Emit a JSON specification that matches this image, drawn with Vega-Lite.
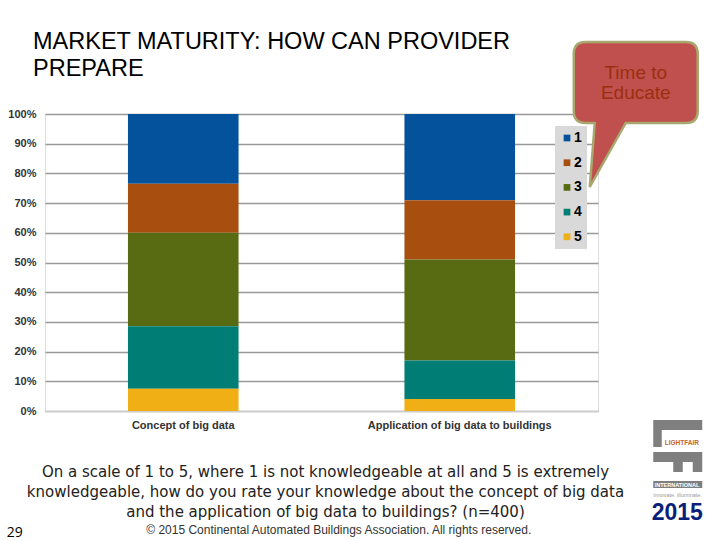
{"$schema":"https://vega.github.io/schema/vega-lite/v6.json","width":553,"height":297,"autosize":{"type":"none"},"padding":{"left":45,"top":114,"right":122,"bottom":129},"background":"white","config":{"font":"Liberation Sans","view":{"stroke":"#dddddd"},"axisY":{"tickCount":10,"labelOverlap":false}},"title":{"text":["MARKET MATURITY: HOW CAN PROVIDER","PREPARE"],"anchor":"start","frame":"group","dx":-12,"dy":77,"offset":34,"font":"Liberation Sans","fontSize":23.5,"fontWeight":"normal","lineHeight":27,"color":"#000000"},"encoding":{"x":{"field":"question","type":"nominal","sort":null,"scale":{"domain":["Concept of big data","Application of big data to buildings"],"paddingInner":0.6,"paddingOuter":0.3},"axis":{"title":["On a scale of 1 to 5, where 1 is not knowledgeable at all and 5 is extremely","knowledgeable, how do you rate your knowledge about the concept of big data","and the application of big data to buildings? (n=400)"],"titleFont":"DejaVu Sans","titleFontSize":15,"titleFontWeight":"normal","titleColor":"#222222","titleLineHeight":20,"titlePadding":34,"titleX":280,"labelAngle":0,"labelFont":"Liberation Sans","labelFontSize":11,"labelFontWeight":"bold","labelColor":"#333333","labelPadding":8,"labelLimit":300,"ticks":false,"domainColor":"#cccccc","grid":false}}},"layer":[{"data":{"values":[{"question":"Concept of big data","rating":"1","share":23.5},{"question":"Concept of big data","rating":"2","share":16.5},{"question":"Concept of big data","rating":"3","share":31.5},{"question":"Concept of big data","rating":"4","share":21},{"question":"Concept of big data","rating":"5","share":7.5},{"question":"Application of big data to buildings","rating":"1","share":29},{"question":"Application of big data to buildings","rating":"2","share":20},{"question":"Application of big data to buildings","rating":"3","share":34},{"question":"Application of big data to buildings","rating":"4","share":13},{"question":"Application of big data to buildings","rating":"5","share":4}]},"mark":{"type":"bar"},"encoding":{"y":{"field":"share","type":"quantitative","stack":"normalize","scale":{"domain":[0,1]},"axis":{"title":null,"format":".0%","grid":true,"gridColor":"#999999","gridWidth":1.5,"ticks":false,"domain":false,"labelFont":"Liberation Sans","labelFontSize":11,"labelFontWeight":"bold","labelColor":"#333333","labelPadding":9}},"color":{"field":"rating","type":"nominal","scale":{"domain":["1","2","3","4","5"],"range":["#03529B","#A84F10","#586B12","#007D74","#EFAF15"]},"legend":{"title":null,"orient":"none","legendX":510,"legendY":12,"fillColor":"#D9D9D9","symbolType":"square","symbolSize":45,"symbolOpacity":1,"labelFont":"Liberation Sans","labelFontSize":14,"labelFontWeight":"bold","labelColor":"#000000","rowPadding":10.7,"padding":5,"labelOffset":0}}}},{"data":{"values":[{"question":"Application of big data to buildings","anchor":1,"item":"callout"}]},"mark":{"type":"point","filled":true,"size":4,"opacity":1,"fill":"#C0504D","stroke":"#A8A86E","strokeWidth":2.5,"shape":"M126 -72 H226 Q238 -72 238 -60 V-3 Q238 9 226 9 H166 L130 73 L135 9 H126 Q114 9 114 -3 V-60 Q114 -72 126 -72 Z"},"encoding":{"y":{"field":"anchor","type":"quantitative"}}},{"data":{"values":[{"question":"Application of big data to buildings","anchor":1,"label":"Time to\nEducate"}]},"mark":{"type":"text","dx":176,"dy":-35,"align":"center","baseline":"alphabetic","lineBreak":"\n","lineHeight":20,"fontSize":19,"color":"#9A2F10"},"encoding":{"y":{"field":"anchor","type":"quantitative"},"text":{"field":"label"}}},{"data":{"values":[{"question":"Application of big data to buildings","anchor":1,"label":"© 2015 Continental Automated Buildings Association. All rights reserved."}]},"mark":{"type":"text","dx":-121,"dy":420,"align":"center","baseline":"alphabetic","fontSize":12,"color":"#333333"},"encoding":{"y":{"field":"anchor","type":"quantitative"},"text":{"field":"label"}}},{"data":{"values":[{"question":"Application of big data to buildings","anchor":1,"label":"29"}]},"mark":{"type":"text","dx":-445,"dy":423,"align":"center","baseline":"alphabetic","fontSize":14,"color":"#000000","font":"Open Sans"},"encoding":{"y":{"field":"anchor","type":"quantitative"},"text":{"field":"label"}}},{"data":{"values":[{"question":"Application of big data to buildings","anchor":1,"item":"logo"}]},"mark":{"type":"point","filled":true,"size":4,"opacity":1,"fill":"#7F7F7F","strokeWidth":0,"shape":"M193.5 306 H242.5 V316 H202 V333 H193.5 Z M193.5 338 H242.5 V358 H233 V348 H223 V358 H213.5 V348 H193.5 Z M193.5 367 H242.5 V374 H193.5 Z"},"encoding":{"y":{"field":"anchor","type":"quantitative"}}},{"data":{"values":[{"question":"Application of big data to buildings","anchor":1,"label":"LIGHTFAIR"}]},"mark":{"type":"text","dx":205,"dy":331,"align":"left","baseline":"alphabetic","fontSize":6.5,"fontWeight":"bold","color":"#C8642D"},"encoding":{"y":{"field":"anchor","type":"quantitative"},"text":{"field":"label"}}},{"data":{"values":[{"question":"Application of big data to buildings","anchor":1,"label":"INTERNATIONAL"}]},"mark":{"type":"text","dx":195,"dy":372.5,"align":"left","baseline":"alphabetic","fontSize":5.5,"fontWeight":"bold","color":"#FFFFFF"},"encoding":{"y":{"field":"anchor","type":"quantitative"},"text":{"field":"label"}}},{"data":{"values":[{"question":"Application of big data to buildings","anchor":1,"label":"innovate. illuminate."}]},"mark":{"type":"text","dx":193.5,"dy":383,"align":"left","baseline":"alphabetic","fontSize":5.5,"color":"#999999"},"encoding":{"y":{"field":"anchor","type":"quantitative"},"text":{"field":"label"}}},{"data":{"values":[{"question":"Application of big data to buildings","anchor":1,"label":"2015"}]},"mark":{"type":"text","dx":192,"dy":406,"align":"left","baseline":"alphabetic","fontSize":23,"fontWeight":"bold","color":"#0B1F7A"},"encoding":{"y":{"field":"anchor","type":"quantitative"},"text":{"field":"label"}}}]}
